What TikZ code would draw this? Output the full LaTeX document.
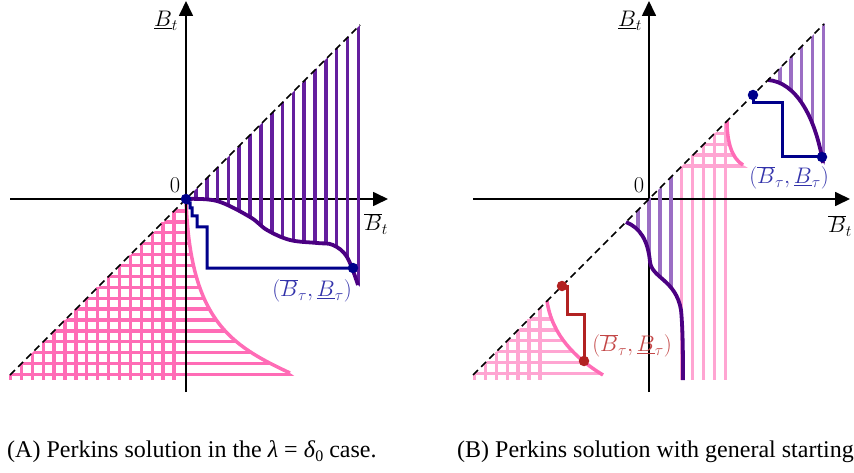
\RequirePackage{fix-cm}
\documentclass[tikz,border=0pt]{standalone}
\usepackage{fontspec}
\setmainfont{Liberation Serif}
\usetikzlibrary{arrows.meta}
\definecolor{pinkA}{RGB}{255,108,182}
\definecolor{pinkB}{RGB}{255,165,210}
\definecolor{purA}{RGB}{100,30,158}
\definecolor{purB}{RGB}{155,110,196}
\definecolor{indig}{RGB}{75,0,130}
\definecolor{navyc}{RGB}{0,0,139}
\definecolor{bluelab}{RGB}{50,50,170}
\definecolor{redc}{RGB}{178,34,34}
\definecolor{redlab}{RGB}{195,70,70}
\begin{document}
\begin{tikzpicture}[x=1pt,y=-1pt,
  axisline/.style={line width=1.7pt,-{Triangle[length=15pt,width=14pt]}},
  diagline/.style={line width=1.6pt,dash pattern=on 7pt off 4.5pt},
  hatchA/.style={line width=3.6pt,color=purA},
  hatchB/.style={line width=3.4pt,color=purB},
  gridA/.style={line width=3.3pt,color=pinkA},
  gridB/.style={line width=3.3pt,color=pinkB},
  curveP/.style={line width=3.8pt,color=indig},
  curvePink/.style={line width=3.5pt,color=pinkA},
  bpath/.style={line width=3pt,color=navyc},
  rpath/.style={line width=3pt,color=redc},
  bdot/.style={circle,fill=navyc,inner sep=0pt,minimum size=10.5pt},
  rdot/.style={circle,fill=redc,inner sep=0pt,minimum size=10.5pt},
  lab/.style={font=\fontsize{22.5}{26}\selectfont,inner sep=0pt},
  captext/.style={font=\fontsize{24}{28}\selectfont,inner sep=0pt,anchor=base west}
]
\useasboundingbox (0,0) rectangle (854,473);

% ================= LEFT PANEL =================
% pink grid
\begin{scope}
\clip (186,200) .. controls (190,320) and (230,345) .. (290,373) -- (300,380) -- (5,380) -- cycle;
\foreach \k in {0,...,15} { \draw[gridA] (0,{211+10.9*\k}) -- (320,{211+10.9*\k}); }
\end{scope}
\foreach \k in {0,...,15} { \pgfmathsetmacro\xx{174-10.9*\k} \draw[gridA] (\xx,{385-\xx}) -- (\xx,380); }
\draw[curvePink] (186,200) .. controls (190,320) and (230,345) .. (290,373);

% axes
\coordinate (lx0) at (10,199); \coordinate (lx1) at (388,199);
\coordinate (ly0) at (186,392); \coordinate (ly1) at (186,1);
\draw[axisline] (lx0) -- (lx1);
\draw[axisline] (ly0) -- (ly1);

% purple hatch
\begin{scope}
\clip plot[smooth,tension=0.6] coordinates {(186,199) (217,201) (250,217) (267,230) (290,240) (317,243) (333,245) (347,257) (358,285)} -- (366,292) -- (366,19) -- cycle;
\foreach \k in {0,...,15} { \pgfmathsetmacro\xx{196+10.82*\k} \draw[hatchA] (\xx,0) -- (\xx,400); }
\end{scope}
\draw[curveP] plot[smooth,tension=0.6] coordinates {(186,199) (217,201) (250,217) (267,230) (290,240) (317,243) (333,245) (347,257) (358,285)};

% diagonal
\coordinate (ld0) at (10,375); \coordinate (ld1) at (360,25);
\draw[diagline] (ld0) -- (ld1);

% blue path
\node[bdot] (s1) at (186,199) {};
\node[bdot] (e1) at (353,268) {};
\draw[bpath] (s1.center) -- (188,203) -- (190,203) -- (190,208) -- (192,208) -- (192,216) -- (197,216) -- (197,227) -- (207,227) -- (207,268) -- (e1.center);

% labels
\node[lab] (lbt) at (166,21) {$\underline{B}_t$};
\node[lab] (lbbt) at (376,224) {$\overline{B}_t$};
\node[lab] (l0) at (175,185) {$0$};
\node[lab,text=bluelab] (lt1) at (312,291) {$(\overline{B}_\tau,\underline{B}_\tau)$};

% ================= RIGHT PANEL =================
% lower-left pink
\begin{scope}
\clip (547,301) .. controls (552,335) and (575,358) .. (603,375) -- (610,380) -- (468,380) -- cycle;
\foreach \k in {0,...,5} { \draw[gridB] (460,{373.5-10.9*\k}) -- (620,{373.5-10.9*\k}); }
\end{scope}
\foreach \k in {0,...,6} { \pgfmathsetmacro\xx{474.5+10.9*\k} \draw[gridB] (\xx,{848-\xx}) -- (\xx,380); }
\draw[curvePink] (547,301) .. controls (552,335) and (575,358) .. (603,375);

% middle pink
\begin{scope}
\clip (727,121) .. controls (727,140) and (731,158) .. (743,165) -- (748,168) -- (680,168) -- cycle;
\foreach \k in {0,...,3} { \draw[gridB] (670,{166-10.9*\k}) -- (760,{166-10.9*\k}); }
\end{scope}
\foreach \k in {0,...,4} { \pgfmathsetmacro\xx{681.8+10.9*\k} \draw[gridB] (\xx,{848-\xx}) -- (\xx,380); }
\draw[curvePink] (727,121) .. controls (727,140) and (731,158) .. (743,165);

% axes
\coordinate (rx0) at (473,199); \coordinate (rx1) at (850,199);
\coordinate (ry0) at (649,392); \coordinate (ry1) at (649,1);
\draw[axisline] (rx0) -- (rx1);
\draw[axisline] (ry0) -- (ry1);

% middle purple
\begin{scope}
\clip (626,222) .. controls (640,228) and (648,240) .. (650,262) .. controls (652,278) and (676,280) .. (681,310) .. controls (683,330) and (683,360) .. (683,380) -- (690,380) -- (690,158) -- cycle;
\foreach \k in {0,...,3} { \pgfmathsetmacro\xx{638.1+10.9*\k} \draw[hatchB] (\xx,0) -- (\xx,400); }
\end{scope}
\draw[curveP] (626,222) .. controls (640,228) and (648,240) .. (650,262) .. controls (652,278) and (676,280) .. (681,310) .. controls (683,330) and (683,360) .. (683,380);

% upper purple
\begin{scope}
\clip (768,80) .. controls (795,82) and (815,115) .. (823,163) -- (828,168) -- (828,20) -- cycle;
\foreach \k in {0,...,4} { \pgfmathsetmacro\xx{780+10.85*\k} \draw[hatchB] (\xx,0) -- (\xx,400); }
\end{scope}
\draw[curveP] (768,80) .. controls (795,82) and (815,115) .. (823,163);

% diagonal
\coordinate (rd0) at (473,375); \coordinate (rd1) at (824,24);
\draw[diagline] (rd0) -- (rd1);

% blue path
\node[bdot] (s2) at (753,95) {};
\node[bdot] (e2) at (822,157) {};
\draw[bpath] (s2.center) -- (753,103) -- (782,103) -- (782,157) -- (e2.center);

% red path
\node[rdot] (s3) at (562,286) {};
\node[rdot] (e3) at (584,361) {};
\draw[rpath] (s3.center) -- (567,286) -- (567,314) -- (584,314) -- (e3.center);

% labels
\node[lab] (rbt) at (630,21) {$\underline{B}_t$};
\node[lab] (rbbt) at (840,226) {$\overline{B}_t$};
\node[lab] (r0) at (639,185) {$0$};
\node[lab,text=bluelab] (rt1) at (789,178) {$(\overline{B}_\tau,\underline{B}_\tau)$};
\node[lab,text=redlab] (rt2) at (632,346) {$(\overline{B}_\tau,\underline{B}_\tau)$};

% captions
\node[captext] (capA) at (7,457) {(A) Perkins solution in the \textit{λ} = \textit{δ}\raisebox{-0.18em}{\fontsize{16}{16}\selectfont 0} case.};
\node[captext] (capB) at (457,457) {(B) Perkins solution with general starting};
\end{tikzpicture}
\end{document}
